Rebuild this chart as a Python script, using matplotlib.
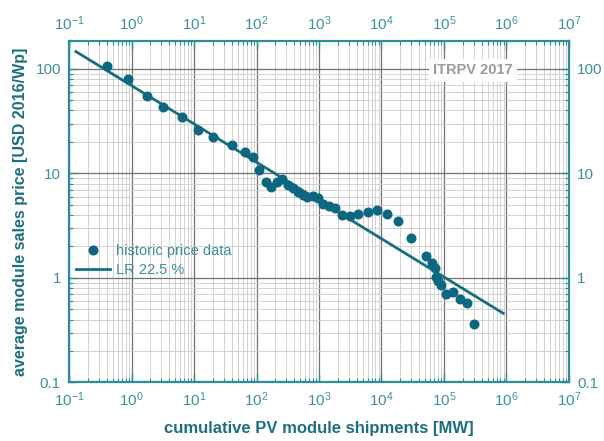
import matplotlib
matplotlib.use('Agg')
import matplotlib.pyplot as plt
from matplotlib import ticker
import numpy as np

plt.rcParams['font.family'] = ['Liberation Sans', 'DejaVu Sans']
plt.rcParams['mathtext.fontset'] = 'custom'
plt.rcParams['mathtext.rm'] = 'Liberation Sans'

# historic price data: cumulative shipments [MW] vs price [USD 2016/Wp]
ship_mw = [0.41, 0.86, 1.78, 3.2, 6.4, 11.4, 19.7, 40.9, 65.8, 87.7,
           111, 142, 172, 216, 260, 322, 387, 466, 561, 636,
           811, 964, 1140, 1420, 1800, 2340, 3100, 4260, 5980, 8400,
           12100, 18600, 29200, 52300, 64500, 70700, 75500, 81300, 89100, 109000,
           140000, 181000, 232000, 307000]
price_usd = [105.7, 79.8, 55.2, 42.8, 34.8, 26.1, 22.3, 18.5, 16.1, 14.5,
             10.9, 8.36, 7.43, 8.2, 8.8, 7.76, 7.21, 6.69, 6.15, 5.91,
             6.12, 5.8, 5.05, 4.85, 4.68, 3.96, 3.88, 4.13, 4.26, 4.45,
             4.13, 3.49, 2.40, 1.61, 1.38, 1.24, 1.03, 0.94, 0.857, 0.708,
             0.73, 0.627, 0.58, 0.366]

# learning rate fit line (end points)
lr_x = [0.128, 8.9e5]
lr_y = [146.5, 0.459]

teal = '#2b8d98'
dot_clr = '#0d6780'
line_clr = '#16707c'
txt_clr = '#3f8f9a'
lbl_clr = '#1d6f80'

fig = plt.figure(figsize=(6.04, 4.41), dpi=100)
ax = fig.add_axes([0.1146, 0.1327, 0.8272, 0.7744])

ax.set_xscale('log')
ax.set_yscale('log')
ax.set_xlim(0.1, 1e7)
ax.set_ylim(0.1, 185)

ax.grid(which='minor', color='#cccccc', lw=0.6)
ax.grid(which='major', color='#707070', lw=0.9)
ax.set_axisbelow(True)

ax.plot(ship_mw, price_usd, 'o', color=dot_clr, ms=6.2, mec=dot_clr,
        label='historic price data', zorder=3)
ax.plot(lr_x, lr_y, '-', color=line_clr, lw=2.0, label='LR 22.5 %', zorder=2)

ax.xaxis.set_major_locator(ticker.LogLocator(base=10, numticks=20))
ax.xaxis.set_minor_locator(ticker.LogLocator(base=10, subs=np.arange(2, 10), numticks=20))
ax.xaxis.set_minor_formatter(ticker.NullFormatter())
ax.yaxis.set_major_formatter(ticker.FuncFormatter(lambda v, p: f'{v:g}'))
ax.yaxis.set_minor_formatter(ticker.NullFormatter())

ax.tick_params(which='both', direction='in', top=True, right=True,
               labeltop=True, labelright=True, color=teal)
ax.tick_params(which='major', length=6, width=1.0, labelsize=11,
               labelcolor=txt_clr, pad=6)
ax.tick_params(which='minor', length=3, width=0.8)

for sp in ax.spines.values():
    sp.set_color(teal)
    sp.set_linewidth(1.6)

ax.set_xlabel('cumulative PV module shipments [MW]', fontsize=12,
              fontweight='bold', color=lbl_clr, labelpad=8)
ax.set_ylabel('average module sales price [USD 2016/Wp]', fontsize=11.5,
              fontweight='bold', color=lbl_clr, labelpad=5)

ax.text(2.9e5, 97, 'ITRPV 2017', fontsize=10.5, fontweight='bold',
        color='#9a9a9a', ha='center', va='center',
        bbox=dict(facecolor='white', edgecolor='none', pad=3))

leg = ax.legend(loc='center left', bbox_to_anchor=(0.0136, 0.356),
                frameon=False, fontsize=10.5, borderpad=0, borderaxespad=0,
                handlelength=2.3, handletextpad=0.45, labelspacing=0.35)
for t in leg.get_texts():
    t.set_color(txt_clr)

fig.savefig('out.png', dpi=100)
